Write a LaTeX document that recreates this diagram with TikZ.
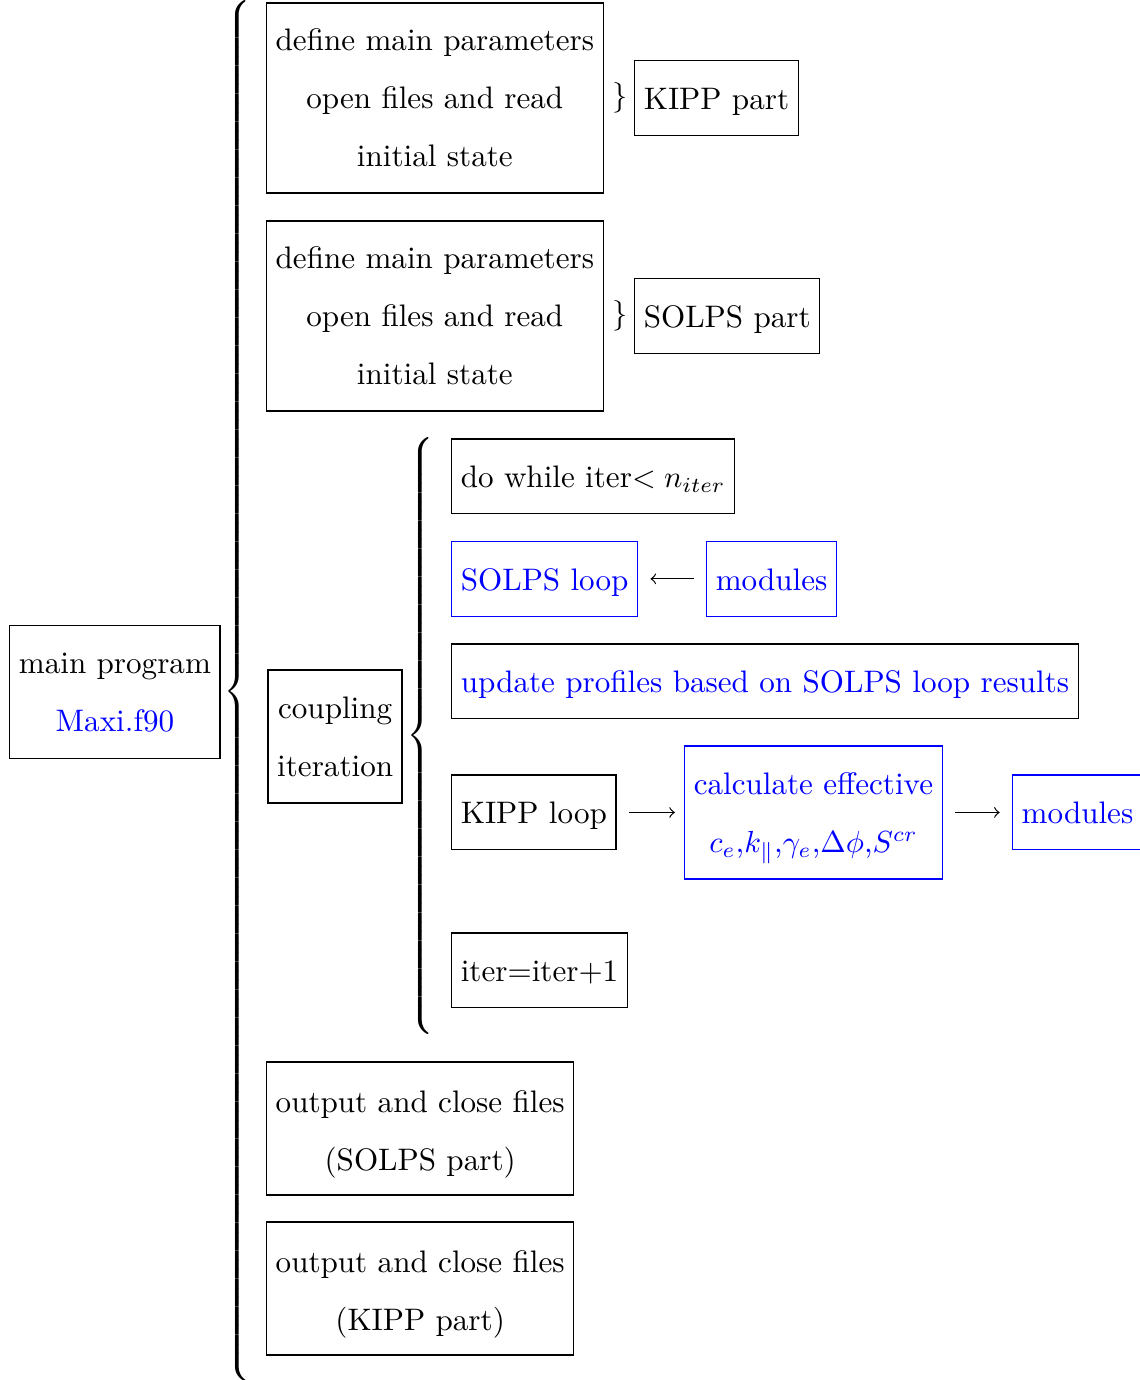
\documentclass[tikz,border=0pt]{standalone}
\usepackage{amsmath,amssymb,xcolor}
\usepackage{tikz}
\usetikzlibrary{arrows.meta,positioning}

% extensible left brace of a given height
\newcommand{\lbrc}[1]{$\delimiterfactor=1000\delimitershortfall=0pt
  \left\{\vcenter{\hbox{\rule{0pt}{#1}}}\right.$}

\begin{document}
\begin{tikzpicture}[
  font=\fontsize{10.2pt}{12pt}\selectfont,
  blk/.style={draw,align=center,inner xsep=3pt,inner ysep=2pt,minimum height=24.5pt,
    text height=9.4pt,text depth=2pt,anchor=west},
  two/.style={minimum height=43.6pt,text height=,text depth=},
  three/.style={minimum height=62.3pt,text height=,text depth=},
  bl/.style={draw=blue,text=blue},
  brc/.style={inner sep=0pt},
  >=to]
  \useasboundingbox (0,0) rectangle (373.8pt,-452.5pt);

  \node[blk,two] (main) at (3pt,-227pt) {main program\\[7pt]\textcolor{blue}{Maxi.f90}};
  \node[brc] (bigbrc) at (78.3pt,-226.7pt) {\lbrc{448pt}};

  % set-up
  \node[blk,three] (defk) at (87.2pt,-32.1pt)
       {define main parameters\\[7pt]open files and read\\[7pt]initial state};
  \node[brc] (brck) at (203.3pt,-32.1pt) {$\}$};
  \node[blk] (kipp) at (207.9pt,-32.1pt) {KIPP part};
  \node[blk,three] (defs) at (87.2pt,-103.6pt)
       {define main parameters\\[7pt]open files and read\\[7pt]initial state};
  \node[brc] (brcs) at (203.3pt,-103.6pt) {$\}$};
  \node[blk] (solps) at (207.9pt,-103.6pt) {SOLPS part};

  % coupling iteration
  \node[blk,two,thick] (coup) at (87.5pt,-241.5pt) {coupling\\[7pt]iteration};
  \node[brc] (itbrc) at (138.5pt,-241.3pt) {\lbrc{192pt}};
  \node[blk] (dowhile) at (147.9pt,-156.2pt) {do while iter$< n_{iter}$};
  \node[blk,bl] (sloop) at (147.9pt,-189.8pt) {SOLPS loop};
  \node[blk,bl] (smod) at (231.5pt,-189.8pt) {modules};
  \node[blk] (upd) at (147.9pt,-223.4pt)
       {\textcolor{blue}{update profiles based on SOLPS loop results}};
  \node[blk] (kloop) at (147.9pt,-266.4pt) {KIPP loop};
  \node[blk,two,bl] (calc) at (224.3pt,-266.4pt)
       {\rule{0pt}{11pt}calculate effective\\[7pt]$c_e$,$k_{\parallel}$,$\gamma_e$,$\Delta\phi$,$S^{cr}$};
  \node[blk,bl] (kmod) at (331.8pt,-266.4pt) {modules};
  \node[blk] (iter) at (147.9pt,-318.2pt) {iter=iter+1};

  \draw[->,shorten <=4pt,shorten >=4pt] (smod) -- (sloop);
  \draw[->,shorten <=4pt,shorten >=3pt] (kloop) -- (calc);
  \draw[->,shorten <=4pt,shorten >=4pt] (calc) -- (kmod);

  % closing
  \node[blk,two] (outs) at (87.2pt,-370pt) {\rule{0pt}{11pt}output and close files\\[7pt](SOLPS part)};
  \node[blk,two] (outk) at (87.2pt,-422.5pt) {\rule{0pt}{11pt}output and close files\\[7pt](KIPP part)};
\end{tikzpicture}
\end{document}
